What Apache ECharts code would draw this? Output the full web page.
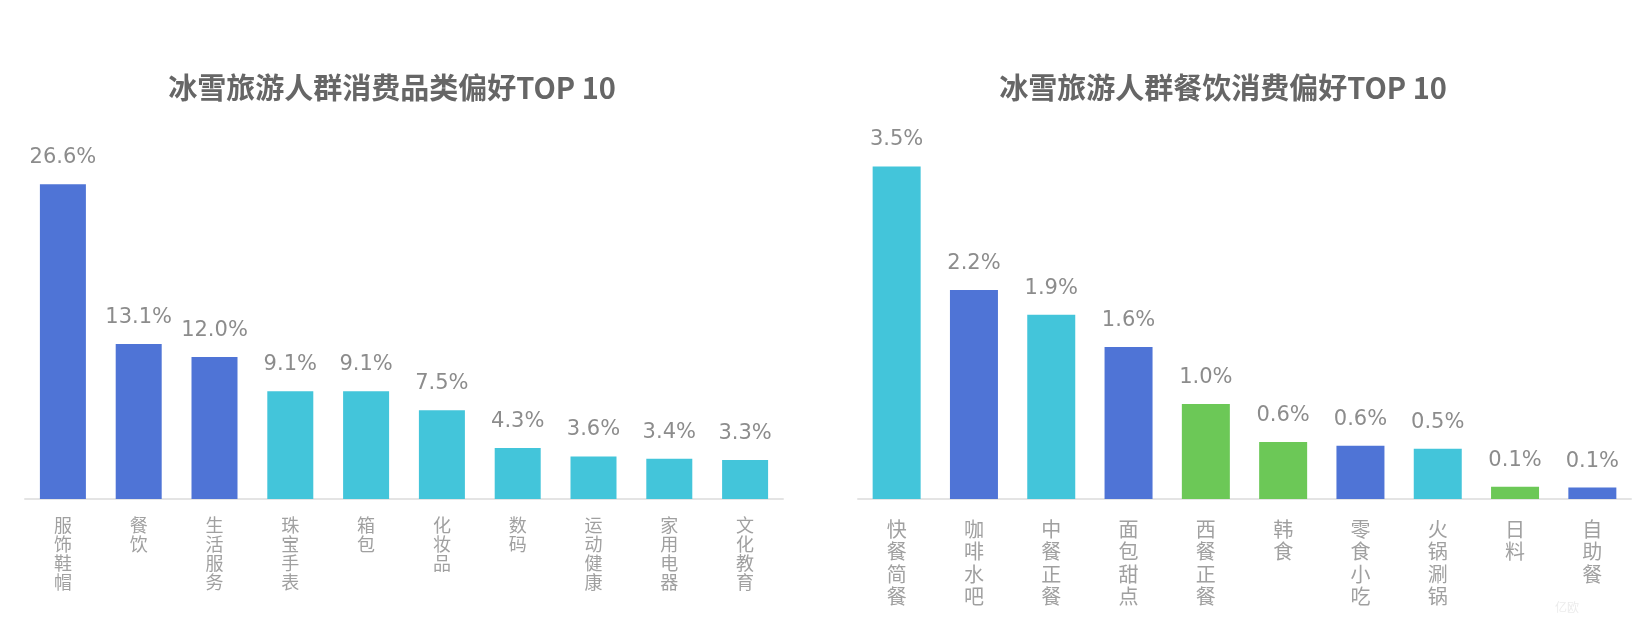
<!DOCTYPE html>
<html>
<head>
<meta charset="utf-8">
<script src="https://cdn.jsdelivr.net/npm/echarts@6/dist/echarts.min.js"></script>
<style>
html,body{margin:0;padding:0;background:#fff;}
#chart{width:1644px;height:624px;}
</style>
</head>
<body>
<div id="chart"></div>
<script>
// ---- data ----
const leftTitle = '冰雪旅游人群消费品类偏好TOP 10';
const leftCategories = ['服饰鞋帽','餐饮','生活服务','珠宝手表','箱包','化妆品','数码','运动健康','家用电器','文化教育'];
const leftValues = [26.6, 13.1, 12.0, 9.1, 9.1, 7.5, 4.3, 3.6, 3.4, 3.3];

const rightTitle = '冰雪旅游人群餐饮消费偏好TOP 10';
const rightCategories = ['快餐简餐','咖啡水吧','中餐正餐','面包甜点','西餐正餐','韩食','零食小吃','火锅涮锅','日料','自助餐'];
const rightValues = [3.5, 2.2, 1.94, 1.6, 1.0, 0.6, 0.56, 0.53, 0.13, 0.12];

// ---- style ----
const BLUE = '#4f74d6', CYAN = '#43c5da', GREEN = '#6cc857';
const leftColors = [BLUE, BLUE, BLUE, CYAN, CYAN, CYAN, CYAN, CYAN, CYAN, CYAN];
const rightColors = [CYAN, BLUE, CYAN, BLUE, GREEN, GREEN, BLUE, CYAN, GREEN, BLUE];

const chart = echarts.init(document.getElementById('chart'), null, {renderer: 'canvas'});

const cjk = '"Noto Sans CJK SC", "Noto Sans", sans-serif';
const labelFont = '"DejaVu Sans", sans-serif';

function vertical(s) { return s.split('').join('\n'); }

function xAxisCfg(gridIndex, cats, fontSize, lineHeight, margin) {
  return {
    type: 'category',
    gridIndex: gridIndex,
    data: cats,
    axisLine: {show: true, lineStyle: {color: '#e4e4e4', width: 2}},
    axisTick: {show: false},
    axisLabel: {
      interval: 0,
      formatter: vertical,
      color: '#a0a0a0',
      fontFamily: cjk,
      fontSize: fontSize,
      lineHeight: lineHeight,
      margin: margin,
      verticalAlign: 'top'
    }
  };
}

function barSeries(idx, values, colors, barWidth) {
  return {
    type: 'bar',
    xAxisIndex: idx,
    yAxisIndex: idx,
    barWidth: barWidth,
    data: values.map((v, i) => ({value: v, itemStyle: {color: colors[i]}})),
    label: {
      show: true,
      position: 'top',
      distance: 16,
      formatter: p => p.value.toFixed(1) + '%',
      color: '#8c8c8c',
      fontFamily: labelFont,
      fontSize: 21
    },
    silent: true,
    animation: false
  };
}

chart.setOption({
  backgroundColor: '#ffffff',
  animation: false,
  grid: [
    {left: 25, width: 758, top: 144, bottom: 125},
    {left: 858, width: 773, top: 119, bottom: 125}
  ],
  xAxis: [
    xAxisCfg(0, leftCategories, 18, 19, 17),
    xAxisCfg(1, rightCategories, 20, 22.5, 19)
  ],
  yAxis: [
    {type: 'value', gridIndex: 0, min: 0, max: 30, show: false, splitLine: {show: false}},
    {type: 'value', gridIndex: 1, min: 0, max: 4, show: false, splitLine: {show: false}}
  ],
  series: [
    barSeries(0, leftValues, leftColors, 46),
    barSeries(1, rightValues, rightColors, 48)
  ],
  graphic: [
    {type: 'text', x: 392, y: 88, style: {text: leftTitle, fill: '#666666', font: 'bold 29px ' + cjk, textAlign: 'center', textVerticalAlign: 'middle'}},
    {type: 'text', x: 1223, y: 88, style: {text: rightTitle, fill: '#666666', font: 'bold 29px ' + cjk, textAlign: 'center', textVerticalAlign: 'middle'}},
    {type: 'text', x: 1567, y: 607, style: {text: '亿欧', fill: '#ececec', font: '12px ' + cjk, textAlign: 'center', textVerticalAlign: 'middle'}}
  ]
});
</script>
</body>
</html>
